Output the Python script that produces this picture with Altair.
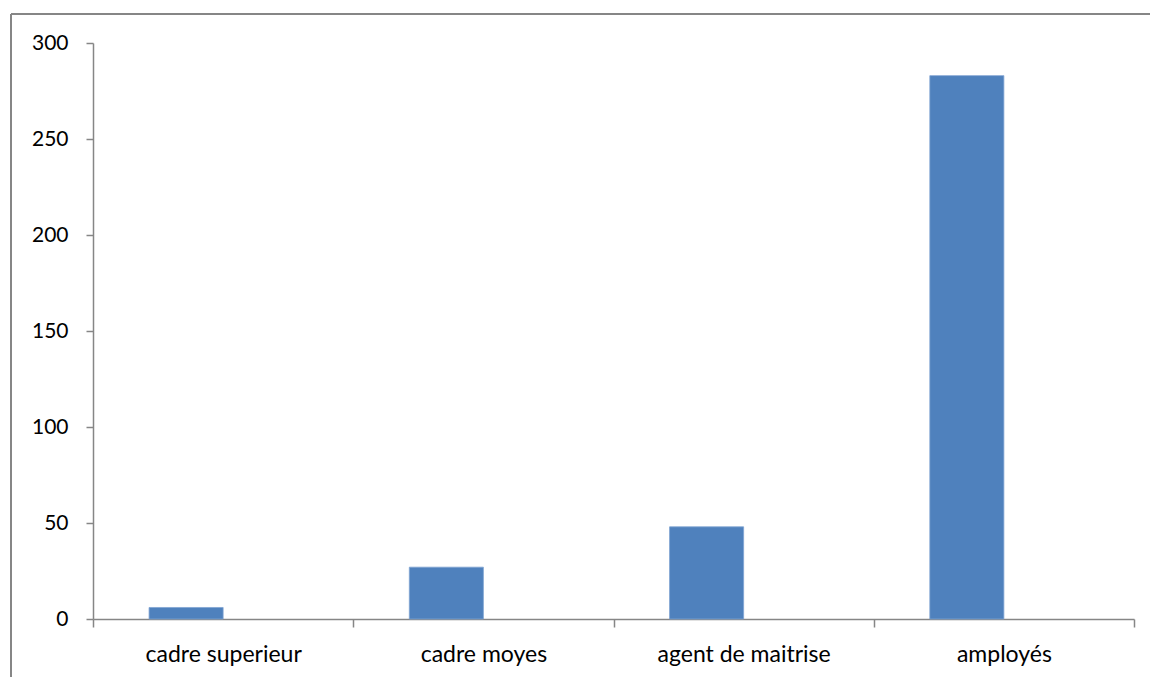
import altair as alt
import pandas as pd

# Headcount by staff category
categories = ["cadre superieur", "cadre moyes", "agent de maitrise", "amployés"]
values = [6, 27, 48, 283]
y_ticks = [0, 50, 100, 150, 200, 250, 300]

df = pd.DataFrame({"categorie": categories, "effectif": values, "serie": ["s1"] * len(categories)})

GRAY = "#868686"
FONT = "Lato"
W, H = 1041, 576

bars = alt.Chart(df).mark_bar(color="#4F81BD", stroke="#7FA3D2", strokeWidth=0.8).encode(
    x=alt.X(
        "categorie:N",
        sort=categories,
        scale=alt.Scale(paddingInner=0, paddingOuter=0),
        axis=alt.Axis(
            title=None,
            labelAngle=0,
            tickBand="extent",
            tickSize=8,
            tickColor=GRAY,
            tickWidth=1.5,
            domainColor=GRAY,
            domainWidth=1.5,
            labelFont=FONT,
            labelFontSize=23,
            labelColor="#000000",
            labelBaseline="alphabetic",
            labelPadding=34,
        ),
    ),
    xOffset=alt.XOffset(
        "serie:N",
        scale=alt.Scale(domain=["s1", "s2"], paddingOuter=0.757, paddingInner=0),
    ),
    y=alt.Y(
        "effectif:Q",
        scale=alt.Scale(domain=[0, 300], nice=False),
        axis=alt.Axis(
            title=None,
            values=y_ticks,
            grid=False,
            tickSize=7,
            tickColor=GRAY,
            tickWidth=1.5,
            domainColor=GRAY,
            domainWidth=1.5,
            labelFont=FONT,
            labelFontSize=21,
            labelColor="#000000",
            labelPadding=18,
        ),
    ),
)

# Outer chart border: only the left and top edges fall on the page
anchor = pd.DataFrame({"k": [0]})
frame_left = alt.Chart(anchor).mark_rule(color=GRAY, strokeWidth=2).encode(
    x=alt.value(-82), y=alt.value(-29), y2=alt.value(H + 58),
)
frame_top = alt.Chart(anchor).mark_rule(color=GRAY, strokeWidth=2).encode(
    y=alt.value(-29), x=alt.value(-82), x2=alt.value(W + 16),
)

chart = alt.layer(frame_left, frame_top, bars).properties(
    width=W, height=H,
    background="white",
    padding={"left": 10, "top": 13, "right": 0, "bottom": 0},
).configure_view(stroke=None)

chart.save("out.html", embed_options={"renderer": "svg", "actions": False})
